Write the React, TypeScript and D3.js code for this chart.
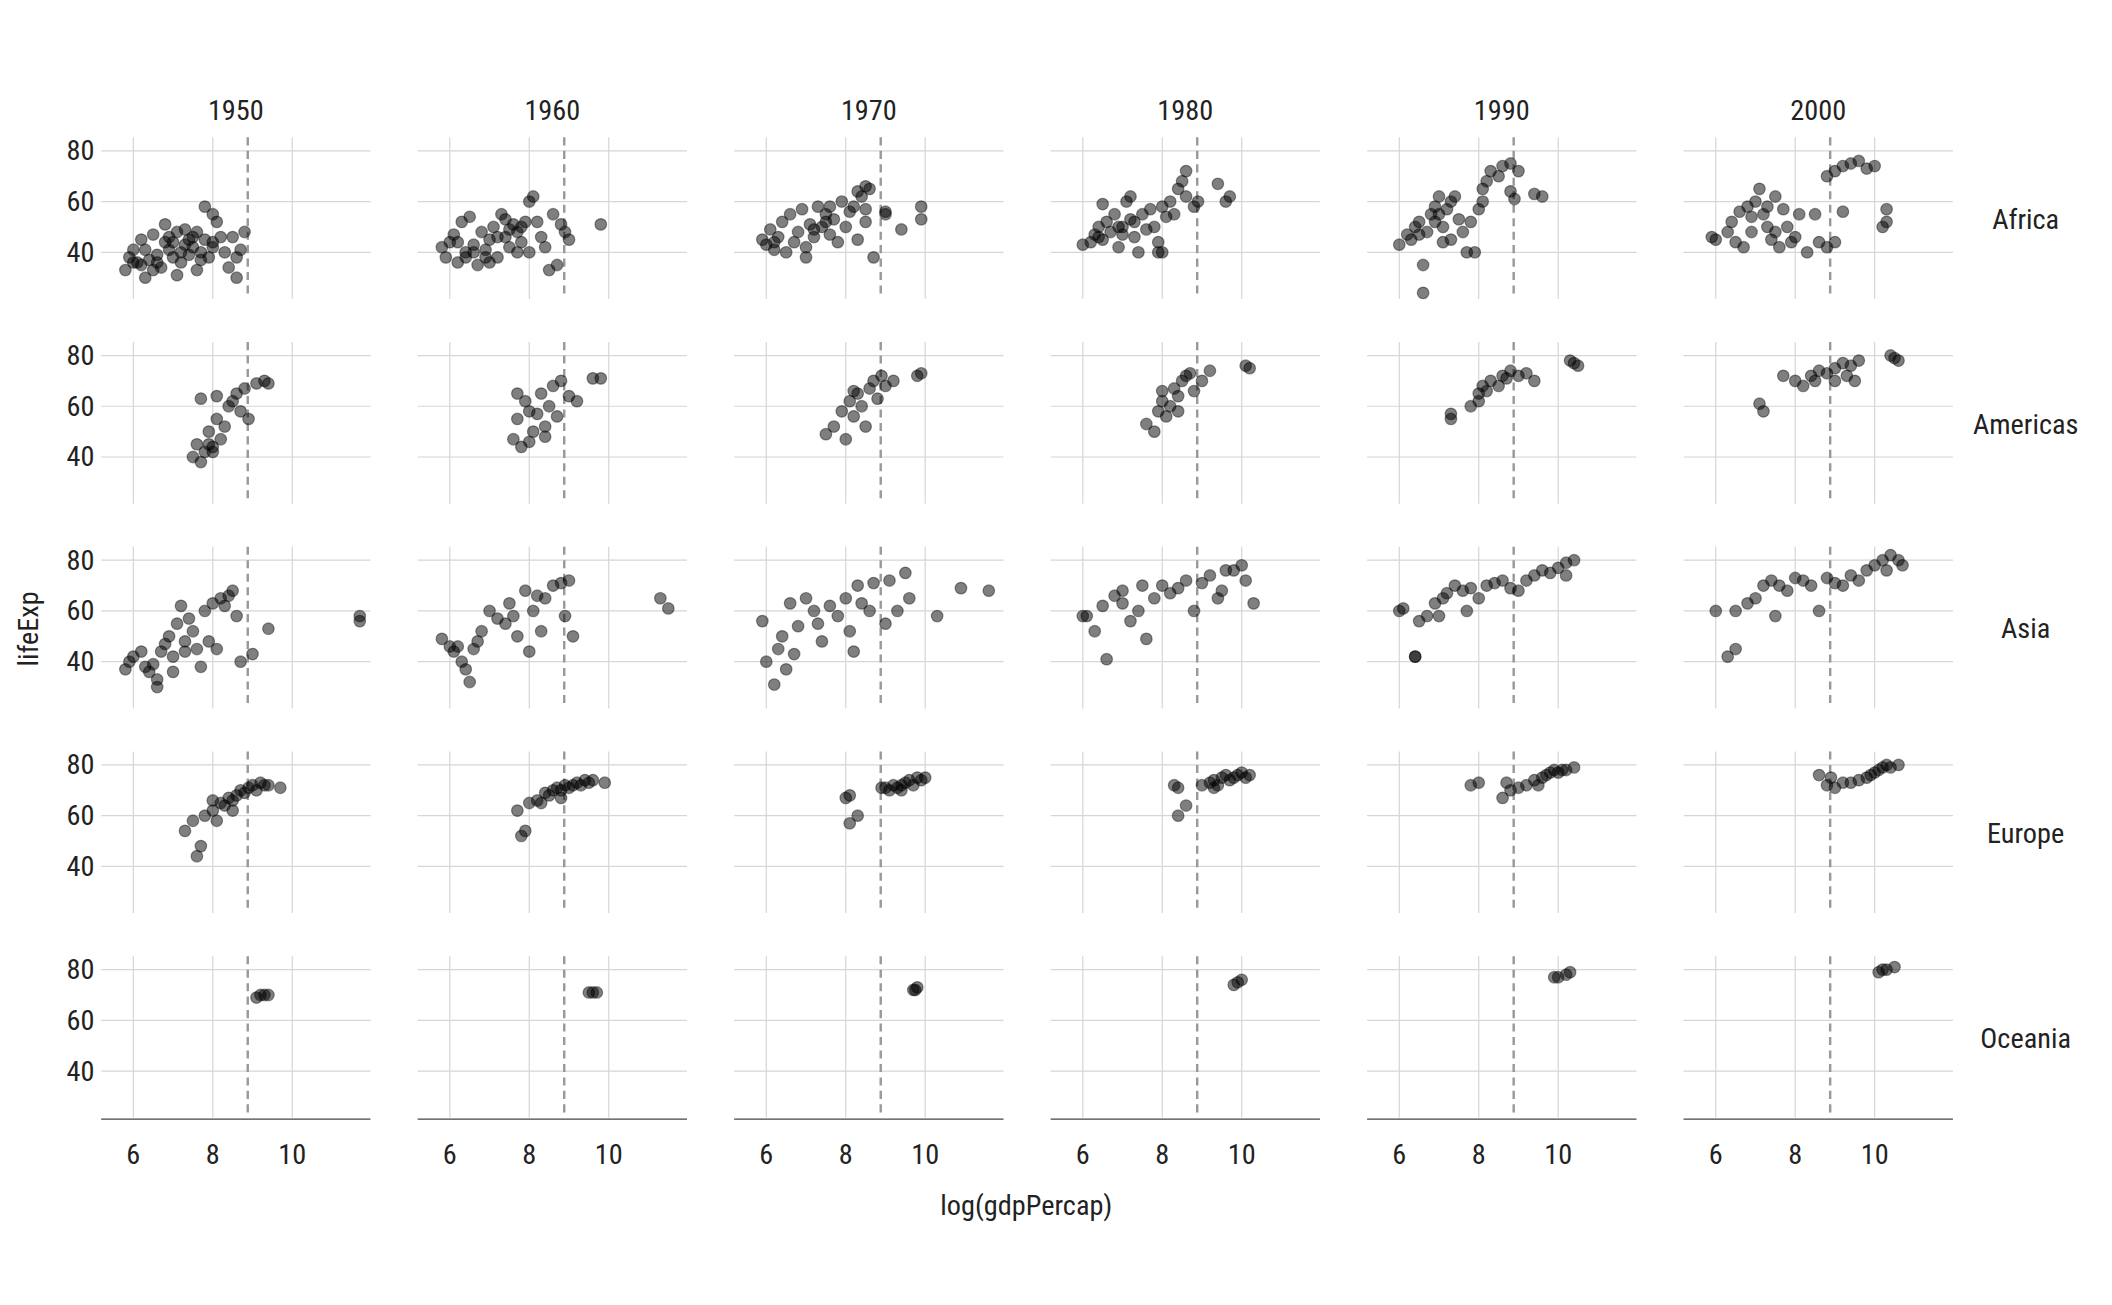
import React from "react";
import * as d3 from "d3";

const decades = ["1950", "1960", "1970", "1980", "1990", "2000"];
const continents = ["Africa", "Americas", "Asia", "Europe", "Oceania"];
const xTicks = [6, 8, 10];
const yTicks = [40, 60, 80];
const medianGdp = 8.88;

const africa = [
  "5.8,33 5.9,38 6.0,41 6.1,36 6.2,35 6.2,45 6.3,30 6.4,37 6.5,33 6.5,47 6.6,39 6.7,34 6.8,51 6.9,41 7.0,38 7.0,44 7.1,31 7.2,36 7.3,43 7.4,39 7.5,42 7.5,46 7.6,33 7.6,48 7.7,40 7.8,45 7.9,38 8.0,55 8.0,44 8.1,52 8.2,46 8.3,40 8.4,34 8.5,46 8.6,38 8.6,30 8.7,41 8.8,48 7.3,49 6.8,44 7.1,48 7.8,58 8.0,42 6.3,41 7.2,40 6.0,36 6.6,36 7.4,45 7.7,37 6.9,46",
  "5.8,42 5.9,38 6.0,44 6.1,47 6.2,36 6.3,52 6.4,40 6.5,54 6.6,43 6.7,35 6.8,48 6.9,41 7.0,45 7.1,50 7.2,38 7.3,55 7.4,46 7.5,42 7.6,51 7.7,48 7.8,44 7.9,52 8.0,60 8.1,62 8.2,52 8.3,46 8.4,42 8.5,33 8.7,35 8.8,51 8.9,48 9.0,45 9.8,51 6.4,38 7.0,36 8.0,40 8.6,55 7.4,53 6.2,44 7.7,40 6.6,40 7.2,46 7.5,49 6.9,38 7.8,50",
  "5.9,45 6.0,43 6.1,49 6.2,41 6.3,46 6.4,52 6.5,40 6.6,55 6.7,44 6.8,48 6.9,57 7.0,42 7.1,51 7.2,46 7.3,58 7.4,50 7.5,55 7.6,47 7.7,53 7.8,44 7.9,60 8.0,50 8.1,56 8.2,58 8.3,64 8.4,62 8.5,66 8.6,65 8.5,57 8.7,38 9.0,55 9.0,56 9.4,49 9.9,58 9.9,53 7.0,38 8.3,45 7.6,58 8.5,52 6.2,44 7.2,49 7.5,52",
  "6.0,43 6.2,44 6.3,47 6.4,50 6.5,45 6.5,59 6.6,52 6.7,48 6.8,55 6.9,42 7.0,50 7.1,60 7.2,53 7.3,46 7.4,40 7.5,55 7.6,49 7.7,57 7.8,50 7.9,44 8.0,58 8.1,54 8.2,60 8.3,55 8.4,65 8.5,68 8.6,72 8.6,62 8.8,58 8.9,60 9.4,67 9.6,60 9.7,62 8.0,40 7.2,62 6.9,50 7.9,40 6.4,46 7.0,47 7.3,52",
  "6.0,43 6.2,47 6.3,45 6.4,50 6.5,52 6.6,24 6.6,35 6.7,48 6.8,55 6.9,58 7.0,62 7.1,50 7.2,57 7.3,60 7.3,45 7.5,53 7.6,48 7.7,40 7.8,52 7.9,40 8.0,57 8.1,65 8.2,68 8.1,60 8.3,72 8.5,70 8.6,74 8.8,75 8.8,64 8.9,61 9.0,72 9.4,63 9.6,62 7.1,44 7.4,62 6.5,47 6.9,52 7.0,55",
  "5.9,46 6.0,45 6.3,48 6.4,52 6.5,44 6.6,56 6.7,42 6.8,58 6.9,48 7.0,60 7.1,65 7.2,55 7.3,50 7.4,45 7.5,62 7.6,42 7.7,57 7.8,50 7.9,44 8.0,46 8.1,55 8.3,40 8.5,55 8.6,44 8.8,70 9.0,72 9.2,74 9.4,75 9.6,76 9.8,73 10.0,74 10.3,57 10.2,50 10.3,52 9.2,56 9.0,44 8.8,42 7.5,48 6.9,54 7.3,58",
];
const americas = [
  "7.5,40 7.6,45 7.7,63 7.8,42 7.9,50 8.0,44 8.1,55 8.1,64 8.2,47 8.3,52 8.4,60 8.5,62 8.6,65 8.7,58 8.8,67 8.9,55 9.1,69 9.3,70 9.4,69 7.9,45 8.0,42 7.7,38",
  "7.6,47 7.7,55 7.8,44 7.9,62 8.0,46 8.1,50 8.2,57 8.3,65 8.4,52 8.5,60 8.6,68 8.7,56 8.8,70 9.0,64 9.2,62 9.6,71 9.8,71 7.7,65 8.0,58 8.4,48",
  "7.5,49 7.7,52 7.9,58 8.0,47 8.1,62 8.2,56 8.3,65 8.4,60 8.5,52 8.6,67 8.7,70 8.8,63 8.9,72 9.0,68 9.2,70 9.8,72 9.9,73 8.2,66",
  "7.6,53 7.8,50 7.9,58 8.0,62 8.1,56 8.2,60 8.3,67 8.4,64 8.5,70 8.6,72 8.7,73 8.8,66 9.0,70 9.2,74 10.1,76 10.2,75 8.0,66 8.4,58",
  "7.3,57 7.3,55 7.8,60 8.0,65 8.1,68 8.2,66 8.3,70 8.5,68 8.6,72 8.7,71 8.8,74 9.0,72 9.2,73 9.4,70 10.3,78 10.4,77 10.5,76 8.0,62",
  "7.1,61 7.2,58 7.7,72 8.0,70 8.2,68 8.4,72 8.6,74 8.8,73 9.0,75 9.2,77 9.4,76 9.6,78 9.0,70 9.3,72 9.5,70 10.4,80 10.5,79 10.6,78 8.5,70",
];
const asia = [
  "5.8,37 5.9,40 6.0,42 6.2,44 6.3,38 6.4,36 6.5,39 6.6,30 6.6,33 6.7,44 6.8,47 6.9,50 7.0,42 7.1,55 7.2,62 7.3,48 7.4,57 7.5,52 7.6,45 7.7,38 7.8,60 7.9,48 8.0,63 8.1,45 8.2,65 8.3,62 8.4,66 8.5,68 8.6,58 8.7,40 9.0,43 9.4,53 11.7,58 11.7,56 7.0,36 7.3,44",
  "5.8,49 6.0,46 6.1,44 6.3,40 6.4,37 6.5,32 6.6,45 6.7,48 6.8,52 7.0,60 7.2,57 7.4,55 7.5,63 7.6,58 7.7,50 7.9,68 8.0,44 8.1,60 8.2,66 8.4,65 8.6,70 8.8,71 9.0,72 8.9,58 9.1,50 11.3,65 11.5,61 6.2,46 8.3,52",
  "5.9,56 6.0,40 6.2,31 6.3,45 6.4,50 6.5,37 6.6,63 6.8,54 7.0,65 7.2,60 7.3,55 7.4,48 7.6,62 7.8,58 8.0,65 8.1,52 8.3,70 8.4,63 8.6,60 8.7,71 9.0,55 9.1,72 9.3,60 9.5,75 9.6,65 10.3,58 10.9,69 11.6,68 8.2,44 6.7,43",
  "6.0,58 6.1,58 6.3,52 6.5,62 6.6,41 6.8,66 7.0,68 7.2,56 7.4,60 7.5,70 7.6,49 7.8,65 8.0,70 8.2,67 8.4,69 8.6,72 8.8,60 9.0,71 9.2,74 9.4,65 9.6,76 9.8,76 10.0,78 10.1,72 10.3,63 9.5,68 7.0,63",
  "6.0,60 6.1,61 6.4,42 6.5,56 6.7,58 6.9,63 7.1,65 7.2,67 7.4,70 7.6,68 7.8,69 8.0,65 8.2,70 8.4,71 8.6,72 8.8,69 9.0,68 9.2,72 9.4,74 9.6,76 9.8,75 10.0,77 10.2,79 10.4,80 10.2,74 7.0,58 7.7,60 6.4,42",
  "6.0,60 6.3,42 6.5,45 6.5,60 6.8,63 7.0,65 7.2,70 7.4,72 7.6,70 7.8,68 8.0,73 8.2,72 8.4,70 8.6,60 8.8,73 9.0,71 9.2,70 9.4,74 9.6,72 9.8,76 10.0,78 10.2,80 10.4,82 10.6,80 10.7,78 10.3,76 7.5,58",
];
const europe = [
  "7.3,54 7.5,58 7.6,44 7.7,48 7.8,60 8.0,62 8.1,58 8.2,65 8.3,64 8.4,67 8.5,66 8.6,68 8.7,70 8.8,69 8.9,71 9.0,72 9.1,70 9.2,73 9.3,72 9.4,72 9.7,71 8.0,66 8.5,62",
  "7.7,62 7.8,52 7.9,54 8.0,65 8.2,66 8.4,69 8.5,68 8.6,70 8.7,71 8.8,70 8.9,72 9.0,71 9.1,72 9.2,73 9.3,72 9.4,74 9.5,73 9.6,74 9.9,73 8.3,65 8.8,67",
  "8.0,67 8.1,68 8.1,57 8.3,60 8.9,71 9.1,70 9.2,72 9.3,71 9.4,72 9.5,73 9.6,74 9.7,72 9.8,75 9.9,74 10.0,75 9.4,70 9.0,71",
  "8.3,72 8.4,71 8.4,60 8.6,64 9.0,72 9.2,73 9.3,74 9.4,72 9.5,75 9.6,76 9.7,74 9.8,75 9.9,76 10.0,77 10.1,75 10.2,76 9.3,71",
  "7.8,72 8.0,73 8.6,67 8.8,70 9.0,71 9.2,72 9.4,74 9.6,75 9.7,76 9.8,77 9.9,78 10.0,77 10.1,78 10.2,78 10.4,79 9.5,72 8.7,73",
  "8.6,76 8.8,72 9.0,71 9.2,73 9.4,73 9.6,74 9.8,75 10.0,77 10.1,78 10.2,79 10.3,80 10.4,79 10.6,80 9.9,76 8.9,75",
];
const oceania = [
  "9.1,69 9.2,70 9.3,70 9.4,70",
  "9.5,71 9.6,71 9.7,71",
  "9.7,72 9.8,73 9.75,72",
  "9.8,74 9.9,75 10.0,76",
  "9.9,77 10.0,77 10.2,78 10.3,79",
  "10.1,79 10.2,80 10.5,81 10.3,80",
];
const panels = [africa, americas, asia, europe, oceania];

const parse = (s: string) => s.trim().split(/\s+/).map((p) => p.split(",").map(Number) as [number, number]);

const W = 1568, H = 969;
const panelW = 200, colStep = 235, left0 = 75;
const rowStep = 152, top0 = 102, panelH = 120;
const FONT = "'Roboto Condensed','Liberation Sans Narrow','DejaVu Sans Condensed',Roboto,sans-serif";

export default function App() {
  const x = d3.scaleLinear().domain([5.19, 11.97]).range([0, panelW]);
  const y = d3.scaleLinear().domain([21.6, 85.3]).range([panelH, 0]);
  return (
    <svg width={2112} height={1305} viewBox={`0 0 ${W} ${H}`} style={{ position: "absolute", left: 0, top: 0, background: "#fff" }} fontFamily={FONT}>
      {decades.map((dec, c) => (
        <text key={dec} x={left0 + c * colStep + panelW / 2} y={89} textAnchor="middle" fontSize={21} fill="#222">{dec}</text>
      ))}
      {continents.map((cont, r) => (
        <text key={cont} x={1504} y={top0 + r * rowStep + panelH / 2 + 8} textAnchor="middle" fontSize={21} fill="#222">{cont}</text>
      ))}
      {panels.map((row, r) =>
        row.map((ps, c) => {
          const ox = left0 + c * colStep, oy = top0 + r * rowStep;
          const pts = parse(ps);
          return (
            <g key={`${r}-${c}`} transform={`translate(${ox},${oy})`}>
              {xTicks.map((t) => <line key={"x" + t} x1={x(t)} x2={x(t)} y1={0} y2={panelH} stroke="#d6d6d6" strokeWidth={0.9} />)}
              {yTicks.map((t) => <line key={"y" + t} x1={0} x2={panelW} y1={y(t)} y2={y(t)} stroke="#d6d6d6" strokeWidth={0.9} />)}
              <line x1={x(medianGdp)} x2={x(medianGdp)} y1={0} y2={panelH} stroke="#999" strokeWidth={1.8} strokeDasharray="6,4" />
              {pts.map(([a, b], i) => (
                <circle key={i} cx={x(a)} cy={y(b)} r={4.3} fill="#000" fillOpacity={0.5} stroke="#000" strokeOpacity={0.4} strokeWidth={0.9} />
              ))}
              {c === 0 && yTicks.map((t) => (
                <text key={"yl" + t} x={-5} y={y(t) + 7} textAnchor="end" fontSize={21} fill="#222">{t}</text>
              ))}
              {r === continents.length - 1 && (
                <g>
                  <line x1={0} x2={panelW} y1={panelH + 1} y2={panelH + 1} stroke="#444" strokeWidth={1} />
                  {xTicks.map((t) => (
                    <text key={"xl" + t} x={x(t)} y={panelH + 34} textAnchor="middle" fontSize={21} fill="#222">{t}</text>
                  ))}
                </g>
              )}
            </g>
          );
        })
      )}
      <text transform="translate(28,467) rotate(-90)" textAnchor="middle" fontSize={21} fill="#222">lifeExp</text>
      <text x={762} y={902} textAnchor="middle" fontSize={21} fill="#222">log(gdpPercap)</text>
    </svg>
  );
}
